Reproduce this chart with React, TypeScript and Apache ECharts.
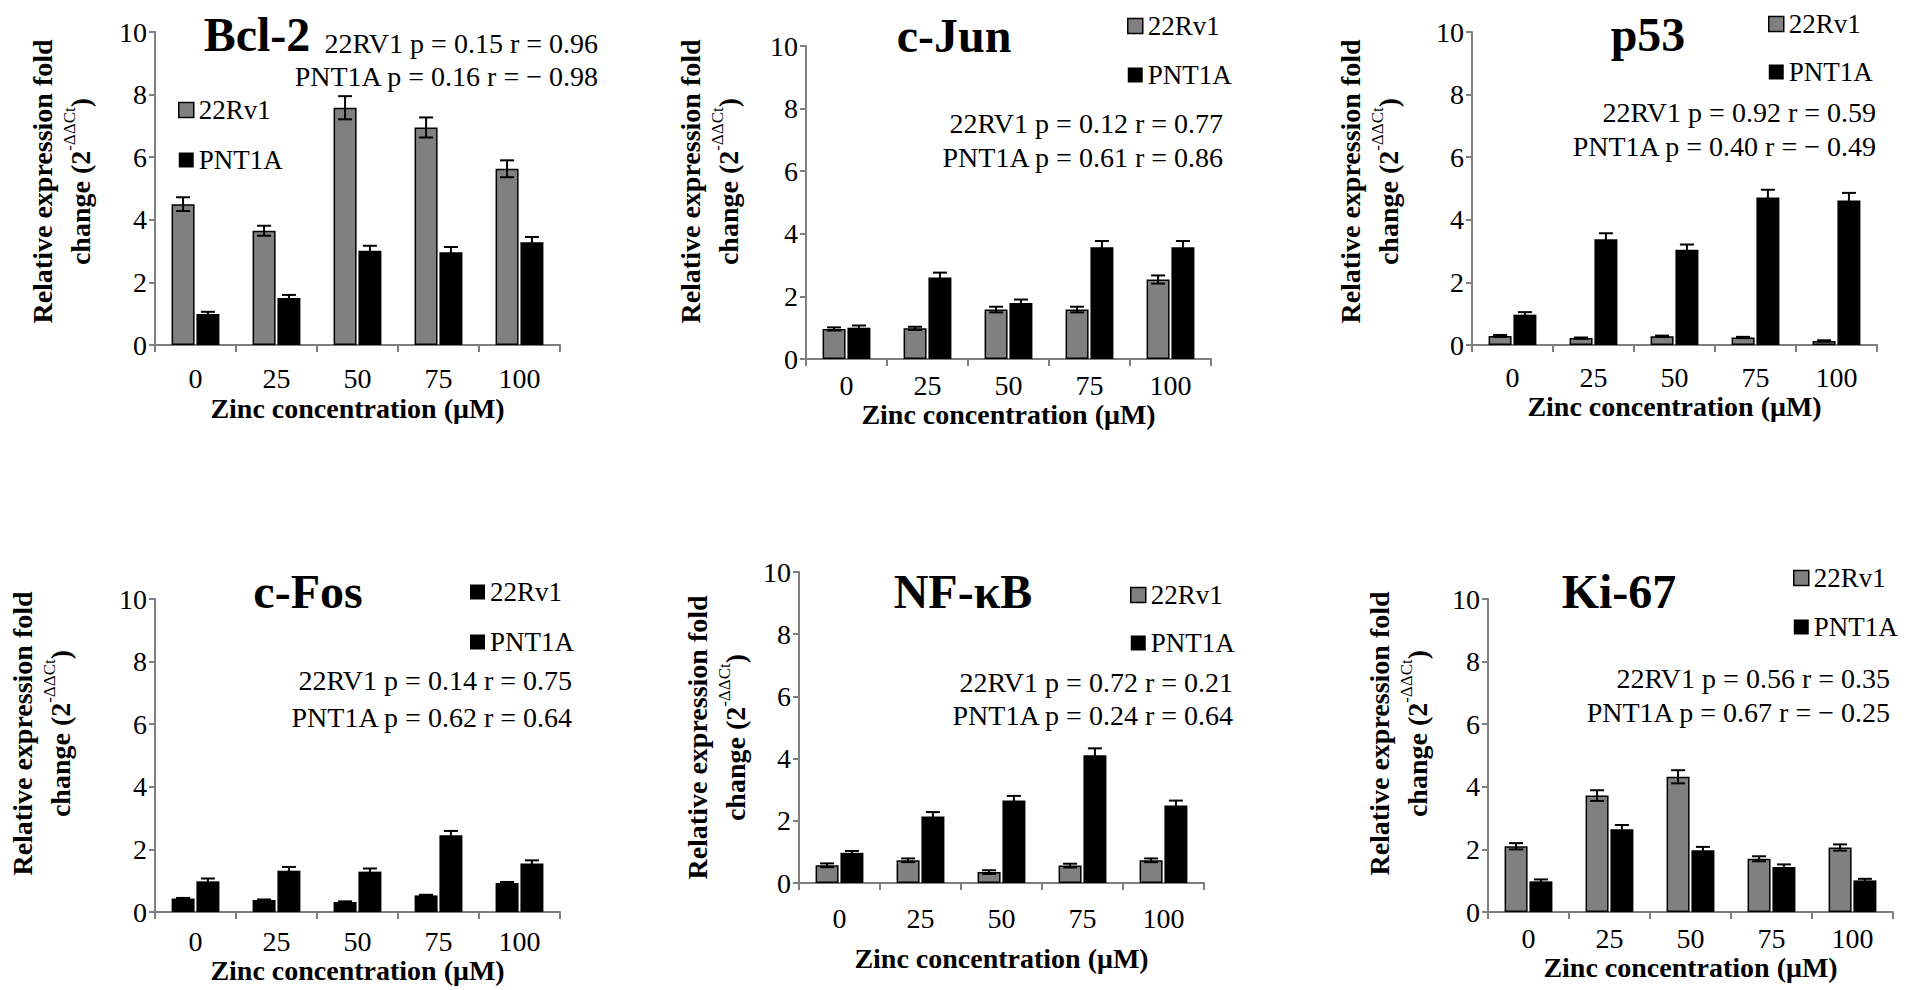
import React, { useEffect, useRef } from 'react';
import * as echarts from 'echarts';

const SERIF = "'Liberation Serif', 'Times New Roman', Times, serif";

// ---------- data ----------
const categories = ['0', '25', '50', '75', '100'];
const seriesNames = ['22Rv1', 'PNT1A'];
const genes = ['Bcl-2', 'c-Jun', 'p53', 'c-Fos', 'NF-κB', 'Ki-67'];
const yTicks = { min: 0, max: 10, interval: 2 };
const xAxisTitle = 'Zinc concentration (μM)';

const bcl2_22Rv1 = [4.5, 3.65, 7.58, 6.95, 5.63];
const bcl2_22Rv1_err = [0.22, 0.16, 0.37, 0.32, 0.27];
const bcl2_PNT1A = [0.99, 1.5, 3.01, 2.96, 3.28];
const bcl2_PNT1A_err = [0.07, 0.1, 0.16, 0.17, 0.17];

const cjun_22Rv1 = [0.96, 0.98, 1.58, 1.58, 2.54];
const cjun_22Rv1_err = [0.05, 0.05, 0.09, 0.09, 0.13];
const cjun_PNT1A = [1.0, 2.6, 1.79, 3.57, 3.57];
const cjun_PNT1A_err = [0.07, 0.16, 0.11, 0.2, 0.2];

const p53_22Rv1 = [0.29, 0.22, 0.28, 0.24, 0.13];
const p53_22Rv1_err = [0.03, 0.02, 0.02, 0.02, 0.02];
const p53_PNT1A = [0.97, 3.38, 3.04, 4.71, 4.62];
const p53_PNT1A_err = [0.08, 0.19, 0.17, 0.25, 0.24];

const cfos_22Rv1 = [0.43, 0.38, 0.32, 0.53, 0.93];
const cfos_22Rv1_err = [0.02, 0.02, 0.02, 0.02, 0.03];
const cfos_PNT1A = [0.98, 1.32, 1.29, 2.45, 1.55];
const cfos_PNT1A_err = [0.09, 0.12, 0.1, 0.14, 0.1];

const nfkb_22Rv1 = [0.57, 0.73, 0.35, 0.56, 0.73];
const nfkb_22Rv1_err = [0.06, 0.06, 0.06, 0.06, 0.06];
const nfkb_PNT1A = [0.97, 2.14, 2.65, 4.11, 2.49];
const nfkb_PNT1A_err = [0.06, 0.14, 0.15, 0.22, 0.16];

const ki67_22Rv1 = [2.1, 3.72, 4.32, 1.7, 2.06];
const ki67_22Rv1_err = [0.1, 0.17, 0.21, 0.08, 0.1];
const ki67_PNT1A = [0.98, 2.64, 1.97, 1.44, 1.01];
const ki67_PNT1A_err = [0.06, 0.14, 0.11, 0.08, 0.05];

const statsBcl2 = ['22RV1 p = 0.15 r = 0.96', 'PNT1A p = 0.16 r = − 0.98'];
const statsCjun = ['22RV1 p = 0.12 r = 0.77', 'PNT1A p = 0.61 r = 0.86'];
const statsP53 = ['22RV1 p = 0.92 r = 0.59', 'PNT1A p = 0.40 r = − 0.49'];
const statsCfos = ['22RV1 p = 0.14 r = 0.75', 'PNT1A p = 0.62 r = 0.64'];
const statsNfkb = ['22RV1 p = 0.72 r = 0.21', 'PNT1A p = 0.24 r = 0.64'];
const statsKi67 = ['22RV1 p = 0.56 r = 0.35', 'PNT1A p = 0.67 r = − 0.25'];

const panelData = [
  { v1: bcl2_22Rv1, e1: bcl2_22Rv1_err, v2: bcl2_PNT1A, e2: bcl2_PNT1A_err, stats: statsBcl2 },
  { v1: cjun_22Rv1, e1: cjun_22Rv1_err, v2: cjun_PNT1A, e2: cjun_PNT1A_err, stats: statsCjun },
  { v1: p53_22Rv1, e1: p53_22Rv1_err, v2: p53_PNT1A, e2: p53_PNT1A_err, stats: statsP53 },
  { v1: cfos_22Rv1, e1: cfos_22Rv1_err, v2: cfos_PNT1A, e2: cfos_PNT1A_err, stats: statsCfos },
  { v1: nfkb_22Rv1, e1: nfkb_22Rv1_err, v2: nfkb_PNT1A, e2: nfkb_PNT1A_err, stats: statsNfkb },
  { v1: ki67_22Rv1, e1: ki67_22Rv1_err, v2: ki67_PNT1A, e2: ki67_PNT1A_err, stats: statsKi67 },
];

// ---------- layout / style ----------
const GRAY = '#808080';
const AXIS_GRAY = '#7f7f7f';
const BAR_W = 23;
const BAR_GAP_PCT = 8;
const BAR_OFFSET = (BAR_W + (BAR_W * BAR_GAP_PCT) / 100) / 2;

const layouts = [
  { grid: { left: 155, top: 32, width: 405, height: 313 }, title: [257, 34], legend: [178, 110, 50], stats: [598, 43, 33], nameGap: 56, nameShift: 7, xLabelMargin: 19, xNameGap: 49, c1: GRAY },
  { grid: { left: 806, top: 46, width: 405, height: 313 }, title: [954, 35], legend: [1127, 26, 49], stats: [1223, 123, 34], nameGap: 59, nameShift: 21, xLabelMargin: 12, xNameGap: 41, c1: GRAY },
  { grid: { left: 1472, top: 32, width: 405, height: 313 }, title: [1648, 34], legend: [1768, 24, 48], stats: [1876, 112, 34], nameGap: 65, nameShift: 7, xLabelMargin: 18, xNameGap: 47, c1: GRAY },
  { grid: { left: 155, top: 599, width: 405, height: 313 }, title: [308, 591], legend: [470, 592, 50], stats: [572, 680, 37], nameGap: 76, nameShift: 22, xLabelMargin: 15, xNameGap: 44, c1: '#000' },
  { grid: { left: 799, top: 572, width: 405, height: 311 }, title: [963, 591], legend: [1130, 595, 48], stats: [1233, 682, 33], nameGap: 45, nameShift: -10, xLabelMargin: 21, xNameGap: 61, c1: GRAY },
  { grid: { left: 1488, top: 599, width: 405, height: 313 }, title: [1619, 591], legend: [1793, 578, 49], stats: [1890, 678, 34], nameGap: 52, nameShift: 22, xLabelMargin: 12, xNameGap: 41, c1: GRAY },
];

function errorSeries(idx: number, vals: number[], errs: number[], offset: number) {
  return {
    type: 'custom',
    name: 'err' + idx + (offset > 0 ? 'b' : 'a'),
    xAxisIndex: idx,
    yAxisIndex: idx,
    z: 5,
    silent: true,
    data: vals.map((v, i) => [i, v, errs[i]]),
    encode: { x: 0, y: 1 },
    renderItem: (params: any, api: any) => {
      const c = api.value(0);
      const v = api.value(1);
      const e = api.value(2);
      const top = api.coord([c, v + e]);
      const bot = api.coord([c, v - e]);
      const x = top[0] + offset;
      const hw = 7;
      const st = { stroke: '#000', lineWidth: 2 };
      return {
        type: 'group',
        children: [
          { type: 'line', shape: { x1: x, y1: top[1], x2: x, y2: bot[1] }, style: st },
          { type: 'line', shape: { x1: x - hw, y1: top[1], x2: x + hw, y2: top[1] }, style: st },
          { type: 'line', shape: { x1: x - hw, y1: bot[1], x2: x + hw, y2: bot[1] }, style: st },
        ],
      };
    },
  };
}

function buildOption() {
  const grid: any[] = [];
  const xAxis: any[] = [];
  const yAxis: any[] = [];
  const series: any[] = [];
  const legend: any[] = [];
  const graphic: any[] = [];

  layouts.forEach((L, i) => {
    const d = panelData[i];
    grid.push({ ...L.grid, containLabel: false });
    xAxis.push({
      type: 'category',
      gridIndex: i,
      data: categories,
      boundaryGap: true,
      axisLine: { show: true, lineStyle: { color: AXIS_GRAY, width: 2 } },
      axisTick: { show: true, length: 7, lineStyle: { color: AXIS_GRAY, width: 2 } },
      axisLabel: { interval: 0, margin: L.xLabelMargin, fontFamily: SERIF, fontSize: 28, lineHeight: 28, color: '#000' },
      splitLine: { show: false },
      name: xAxisTitle,
      nameLocation: 'middle',
      nameGap: L.xNameGap,
      nameMoveOverlap: false,
      nameTextStyle: { fontFamily: SERIF, fontSize: 28, lineHeight: 28, fontWeight: 'bold', color: '#000' },
    });
    const shift = L.nameShift;
    yAxis.push({
      type: 'value',
      gridIndex: i,
      min: yTicks.min,
      max: yTicks.max,
      interval: yTicks.interval,
      axisLine: { show: true, lineStyle: { color: AXIS_GRAY, width: 2 } },
      axisTick: { show: true, length: 6, lineStyle: { color: AXIS_GRAY, width: 2 } },
      axisLabel: { margin: 8, fontFamily: SERIF, fontSize: 28, color: '#000' },
      splitLine: { show: false },
      name: 'Relative expression fold\nchange (2{sup|-ΔΔCt})',
      nameLocation: 'middle',
      nameRotate: 90,
      nameGap: L.nameGap,
      nameMoveOverlap: false,
      nameTextStyle: {
        fontFamily: SERIF,
        fontSize: 28,
        fontWeight: 'bold',
        color: '#000',
        lineHeight: 38,
        align: 'center',
        padding: shift >= 0 ? [0, 0, 0, 2 * shift] : [0, -2 * shift, 0, 0],
        rich: {
          sup: { fontFamily: SERIF, fontSize: 17, fontWeight: 'normal', color: '#000', verticalAlign: 'top', lineHeight: 22 },
        },
      },
    });
    series.push({
      type: 'bar',
      name: seriesNames[0],
      xAxisIndex: i,
      yAxisIndex: i,
      data: d.v1,
      barWidth: BAR_W,
      barGap: BAR_GAP_PCT + '%',
      itemStyle: { color: L.c1, borderColor: '#000', borderWidth: L.c1 === GRAY ? 1.5 : 0 },
      silent: true,
    });
    series.push({
      type: 'bar',
      name: seriesNames[1],
      xAxisIndex: i,
      yAxisIndex: i,
      data: d.v2,
      barWidth: BAR_W,
      barGap: BAR_GAP_PCT + '%',
      itemStyle: { color: '#000' },
      silent: true,
    });
    series.push(errorSeries(i, d.v1, d.e1, -BAR_OFFSET));
    series.push(errorSeries(i, d.v2, d.e2, BAR_OFFSET));

    legend.push({
      left: L.legend[0],
      top: L.legend[1] - 14,
      padding: 0,
      orient: 'vertical',
      itemGap: L.legend[2] - 28,
      itemWidth: 15,
      itemHeight: 15,
      icon: 'rect',
      selectedMode: false,
      textStyle: { fontFamily: SERIF, fontSize: 27, color: '#000', lineHeight: 28 },
      data: [
        { name: seriesNames[0], itemStyle: { color: L.c1, borderColor: '#000', borderWidth: L.c1 === GRAY ? 1.5 : 0 } },
        { name: seriesNames[1], itemStyle: { color: '#000', borderWidth: 0 } },
      ],
    });

    graphic.push({
      type: 'text',
      x: L.title[0],
      y: L.title[1],
      style: {
        text: genes[i],
        font: 'bold 48px ' + SERIF,
        fill: '#000',
        textAlign: 'center',
        textVerticalAlign: 'middle',
        verticalAlign: 'middle',
      },
    });
    d.stats.forEach((line, k) => {
      graphic.push({
        type: 'text',
        x: L.stats[0],
        y: L.stats[1] + k * L.stats[2],
        style: {
          text: line,
          font: '28px ' + SERIF,
          fill: '#000',
          textAlign: 'right',
          textVerticalAlign: 'middle',
          verticalAlign: 'middle',
        },
      });
    });
  });

  return {
    animation: false,
    backgroundColor: '#fff',
    textStyle: { fontFamily: SERIF },
    grid,
    xAxis,
    yAxis,
    series,
    legend,
    graphic,
  };
}

export default function App() {
  const ref = useRef<HTMLDivElement>(null);
  useEffect(() => {
    if (!ref.current) return;
    const chart = echarts.init(ref.current, null, { renderer: 'svg' });
    chart.setOption(buildOption() as any);
    return () => chart.dispose();
  }, []);
  return (
    <div
      ref={ref}
      style={{ position: 'absolute', left: 0, top: 0, width: 1913, height: 990, background: '#fff' }}
    />
  );
}
